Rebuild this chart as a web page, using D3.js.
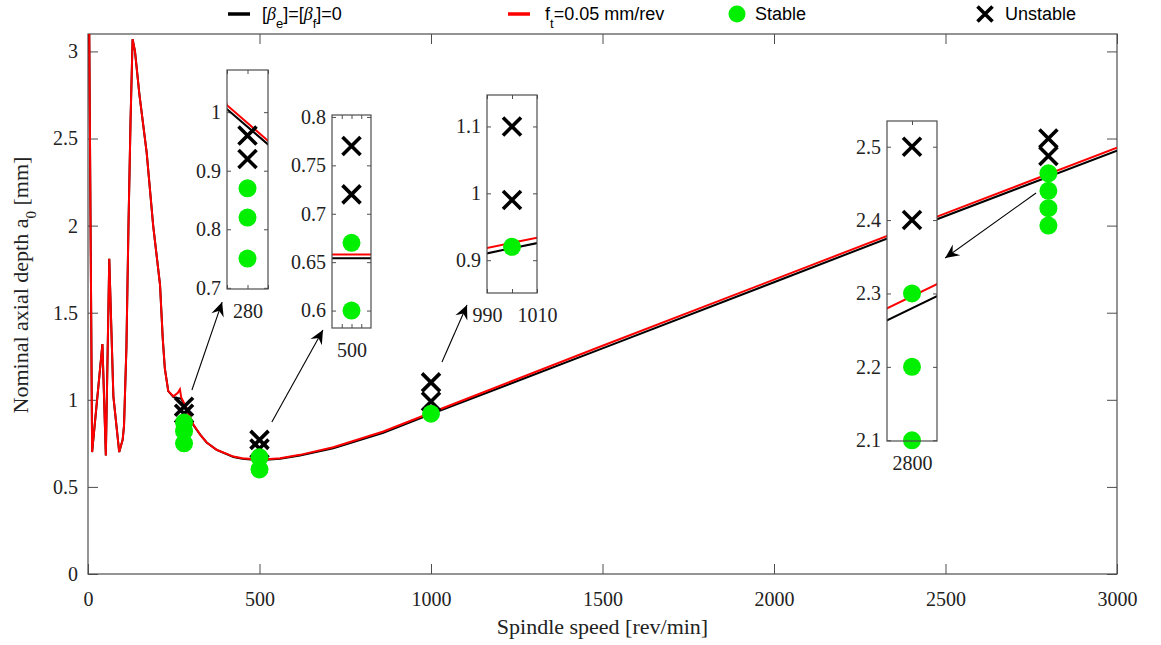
<!DOCTYPE html>
<html><head><meta charset="utf-8">
<script src="https://cdn.jsdelivr.net/npm/d3@7"></script>
<style>body{margin:0;background:#fff}svg{display:block}</style>
</head><body>
<script>
// ---- data ----
const rpm = [3, 12, 42, 52, 62, 74, 83, 91, 101, 105, 112, 118, 124, 130, 137, 150, 171, 190, 210, 218, 224, 234, 249, 262, 268, 272, 288, 297, 307, 327, 346, 375, 424, 450, 490, 510, 560, 618, 715, 861, 1000, 1500, 2000, 2500, 3000];
const depthRed = [3.3, 0.70, 1.32, 0.68, 1.81, 1.02, 0.85, 0.70, 0.77, 0.85, 1.3, 2.0, 2.6, 3.07, 3.0, 2.75, 2.42, 2.0, 1.66, 1.35, 1.18, 1.05, 1.02, 1.04, 1.06, 1.012, 0.951, 0.904, 0.86, 0.80, 0.755, 0.713, 0.674, 0.665, 0.658, 0.658, 0.665, 0.684, 0.728, 0.818, 0.926, 1.31, 1.69, 2.07, 2.447];
const depthBlack = [3.3, 0.70, 1.32, 0.68, 1.81, 1.02, 0.85, 0.70, 0.77, 0.85, 1.3, 2.0, 2.6, 3.07, 3.0, 2.75, 2.42, 2.0, 1.66, 1.35, 1.18, 1.05, 1.015, 1.01, 1.008, 1.005, 0.945, 0.90, 0.855, 0.80, 0.755, 0.713, 0.672, 0.662, 0.654, 0.654, 0.661, 0.68, 0.722, 0.81, 0.918, 1.295, 1.675, 2.055, 2.43];

const stableRpm   = [280, 280, 280, 500, 500, 1000, 2800, 2800, 2800, 2800];
const stableDepth = [0.87, 0.82, 0.75, 0.67, 0.60, 0.92, 2.3, 2.2, 2.1, 2.0];
const unstableRpm   = [280, 280, 500, 500, 1000, 1000, 2800, 2800];
const unstableDepth = [0.96, 0.92, 0.77, 0.72, 1.1, 0.99, 2.5, 2.4];

const xTicks = [0, 500, 1000, 1500, 2000, 2500, 3000];
const yTicks = [0, 0.5, 1, 1.5, 2, 2.5, 3];

const arrowTailRpm = [303, 536, 1032, 2764];
const arrowTailDepth = [1.056, 0.873, 1.217, 2.187];
const arrowTipRpm = [391, 685, 1105, 2499];
const arrowTipDepth = [1.561, 1.401, 1.544, 1.814];

// inset zoom windows
const insetXDomains = [[272, 288], [490, 510], [990, 1010], [2778, 2822]];
const insetYDomains = [[0.698, 1.072], [0.582, 0.802], [0.851, 1.147], [2.099, 2.535]];
const insetYTicks = [[0.7, 0.8, 0.9, 1], [0.6, 0.65, 0.7, 0.75, 0.8], [0.9, 1, 1.1], [2.1, 2.2, 2.3, 2.4, 2.5]];
const insetXTicks = [[272, 280, 288], [495, 500, 505], [990, 1000, 1010], [2800]];
const insetXLabels = [["", "280", ""], ["", "500", ""], ["990", "", "1010"], ["2800"]];

// ---- layout ----
const W = 1161, H = 645;
const M = {left: 88, right: 1117, top: 34, bottom: 574};
const insetBoxes = [
  {left: 227, top: 70, width: 41, height: 219},
  {left: 332, top: 115, width: 39, height: 213},
  {left: 487, top: 95, width: 50, height: 198},
  {left: 887, top: 121, width: 50, height: 320}
];
const serif = "'Liberation Serif','Times New Roman',serif";
const sans = "'Liberation Sans',Arial,sans-serif";
const axisColor = "#4d4d4d";
const green = "#00f000";

const svg = d3.select("body").append("svg").attr("width", W).attr("height", H)
  .style("font-family", serif);

const x = d3.scaleLinear([0, 3000], [M.left, M.right]);
const y = d3.scaleLinear([0, 3.1], [M.bottom, M.top]);

svg.append("defs").append("clipPath").attr("id", "clipMain")
  .append("rect").attr("x", M.left).attr("y", M.top)
  .attr("width", M.right - M.left).attr("height", M.bottom - M.top);

function styleAxis(g, fs) {
  g.select(".domain").remove();
  g.selectAll(".tick line").attr("stroke", axisColor).attr("stroke-width", 1);
  g.selectAll(".tick text").attr("fill", "#222").style("font-size", fs + "px").style("font-family", serif);
}

// main axes
svg.append("g").attr("transform", `translate(0,${M.bottom})`)
  .call(d3.axisBottom(x).tickValues(xTicks).tickSize(-10).tickPadding(18).tickFormat(d3.format("d")))
  .call(g => styleAxis(g, 20));
svg.append("g").attr("transform", `translate(0,${M.top})`)
  .call(d3.axisTop(x).tickValues(xTicks).tickSize(-10).tickFormat(""))
  .call(g => styleAxis(g, 20));
svg.append("g").attr("transform", `translate(${M.left},0)`)
  .call(d3.axisLeft(y).tickValues(yTicks).tickSize(-10).tickPadding(10).tickFormat(d => String(d)))
  .call(g => styleAxis(g, 20));
svg.append("g").attr("transform", `translate(${M.right},0)`)
  .call(d3.axisRight(y).tickValues(yTicks).tickSize(-10).tickFormat(""))
  .call(g => styleAxis(g, 20));
svg.append("rect").attr("x", M.left).attr("y", M.top)
  .attr("width", M.right - M.left).attr("height", M.bottom - M.top)
  .attr("fill", "none").attr("stroke", axisColor).attr("stroke-width", 1.2);

// axis titles
svg.append("text").attr("x", (M.left + M.right) / 2).attr("y", 634)
  .attr("text-anchor", "middle").style("font-size", "22px").attr("fill", "#222")
  .text("Spindle speed [rev/min]");
const yt = svg.append("text").attr("transform", "translate(28,285) rotate(-90)")
  .attr("text-anchor", "middle").style("font-size", "22px").attr("fill", "#222");
yt.append("tspan").text("Nominal axial depth a");
yt.append("tspan").attr("baseline-shift", "sub").style("font-size", "15px").text("0");
yt.append("tspan").text(" [mm]");

// main lines
const lineGen = (xs, ys, vals) => d3.line().x((d, i) => xs(rpm[i])).y(d => ys(d))(vals);
const plot = svg.append("g").attr("clip-path", "url(#clipMain)");
plot.append("path").attr("d", lineGen(x, y, depthBlack)).attr("fill", "none").attr("stroke", "#000").attr("stroke-width", 2);
plot.append("path").attr("d", lineGen(x, y, depthRed)).attr("fill", "none").attr("stroke", "#f00").attr("stroke-width", 2);

function drawCross(g, cx, cy, s, w) {
  g.append("path").attr("d", `M${cx - s},${cy - s}L${cx + s},${cy + s}M${cx - s},${cy + s}L${cx + s},${cy - s}`)
    .attr("stroke", "#000").attr("stroke-width", w || 3.6).attr("fill", "none");
}
function drawMarkers(g, xs, ys, filter) {
  unstableRpm.forEach((r, i) => { if (filter(r, unstableDepth[i])) drawCross(g, xs(r), ys(unstableDepth[i]), 9); });
  stableRpm.forEach((r, i) => {
    if (filter(r, stableDepth[i])) g.append("circle").attr("cx", xs(r)).attr("cy", ys(stableDepth[i])).attr("r", 9).attr("fill", green);
  });
}
drawMarkers(svg.append("g"), x, y, () => true);

// arrows
function drawArrow(g, x1, y1, x2, y2) {
  g.append("line").attr("x1", x1).attr("y1", y1).attr("x2", x2).attr("y2", y2).attr("stroke", "#000").attr("stroke-width", 1.1);
  const a = Math.atan2(y2 - y1, x2 - x1), L = 14, Wd = 6.5;
  const p = (dx, dy) => [x2 + dx * Math.cos(a) - dy * Math.sin(a), y2 + dx * Math.sin(a) + dy * Math.cos(a)];
  const pts = [p(0, 0), p(-L, Wd), p(-L * 0.65, 0), p(-L, -Wd)];
  g.append("path").attr("d", "M" + pts.map(q => q.join(",")).join("L") + "Z").attr("fill", "#000");
}
const ag = svg.append("g");
arrowTailRpm.forEach((r, i) => drawArrow(ag, x(r), y(arrowTailDepth[i]), x(arrowTipRpm[i]), y(arrowTipDepth[i])));

// insets
insetBoxes.forEach((b, k) => {
  const g = svg.append("g");
  const xs = d3.scaleLinear(insetXDomains[k], [b.left, b.left + b.width]);
  const ys = d3.scaleLinear(insetYDomains[k], [b.top + b.height, b.top]);
  g.append("rect").attr("x", b.left).attr("y", b.top).attr("width", b.width).attr("height", b.height).attr("fill", "#fff");
  const cid = "clipInset" + k;
  svg.select("defs").append("clipPath").attr("id", cid).append("rect")
    .attr("x", b.left).attr("y", b.top).attr("width", b.width).attr("height", b.height);
  const bottom = b.top + b.height, right = b.left + b.width;
  g.append("g").attr("transform", `translate(0,${bottom})`)
    .call(d3.axisBottom(xs).tickValues(insetXTicks[k]).tickSize(-4).tickPadding(15)
      .tickFormat((d, i) => insetXLabels[k][i]))
    .call(gg => styleAxis(gg, 20));
  g.append("g").attr("transform", `translate(0,${b.top})`)
    .call(d3.axisTop(xs).tickValues(insetXTicks[k]).tickSize(-4).tickFormat(""))
    .call(gg => styleAxis(gg, 20));
  g.append("g").attr("transform", `translate(${b.left},0)`)
    .call(d3.axisLeft(ys).tickValues(insetYTicks[k]).tickSize(-4).tickPadding(6).tickFormat(d => String(d)))
    .call(gg => styleAxis(gg, 20));
  g.append("g").attr("transform", `translate(${right},0)`)
    .call(d3.axisRight(ys).tickValues(insetYTicks[k]).tickSize(-4).tickFormat(""))
    .call(gg => styleAxis(gg, 20));
  const lg = g.append("g").attr("clip-path", `url(#${cid})`);
  lg.append("path").attr("d", lineGen(xs, ys, depthBlack)).attr("fill", "none").attr("stroke", "#000").attr("stroke-width", 2);
  lg.append("path").attr("d", lineGen(xs, ys, depthRed)).attr("fill", "none").attr("stroke", "#f00").attr("stroke-width", 2);
  const [x0, x1] = insetXDomains[k], [y0, y1] = insetYDomains[k];
  drawMarkers(g, xs, ys, (r, d) => r >= x0 && r <= x1 && d >= y0 && d <= y1);
  g.append("rect").attr("x", b.left).attr("y", b.top).attr("width", b.width).attr("height", b.height)
    .attr("fill", "none").attr("stroke", axisColor).attr("stroke-width", 1.2);
});

// legend
const leg = svg.append("g").style("font-family", sans).style("font-size", "18px");
const ly = 14;
leg.append("line").attr("x1", 228).attr("x2", 250).attr("y1", ly).attr("y2", ly).attr("stroke", "#000").attr("stroke-width", 3.5);
const t1 = leg.append("text").attr("x", 262).attr("y", ly).attr("dy", "0.35em");
t1.append("tspan").text("[");
t1.append("tspan").style("font-family", serif).style("font-style", "italic").text("β");
t1.append("tspan").attr("baseline-shift", "sub").style("font-size", "13px").text("e");
t1.append("tspan").text("]=[");
t1.append("tspan").style("font-family", serif).style("font-style", "italic").text("β");
t1.append("tspan").attr("baseline-shift", "sub").style("font-size", "13px").text("f");
t1.append("tspan").text("]=0");
leg.append("line").attr("x1", 508).attr("x2", 530).attr("y1", ly).attr("y2", ly).attr("stroke", "#f00").attr("stroke-width", 3.5);
const t2 = leg.append("text").attr("x", 545).attr("y", ly).attr("dy", "0.35em");
t2.append("tspan").text("f");
t2.append("tspan").attr("baseline-shift", "sub").style("font-size", "13px").text("t");
t2.append("tspan").text("=0.05 mm/rev");
leg.append("circle").attr("cx", 737).attr("cy", ly).attr("r", 8.5).attr("fill", green);
leg.append("text").attr("x", 755).attr("y", ly).attr("dy", "0.35em").text("Stable");
drawCross(leg, 985, ly, 7.5, 3.6);
leg.append("text").attr("x", 1005).attr("y", ly).attr("dy", "0.35em").text("Unstable");
</script>
</body></html>
